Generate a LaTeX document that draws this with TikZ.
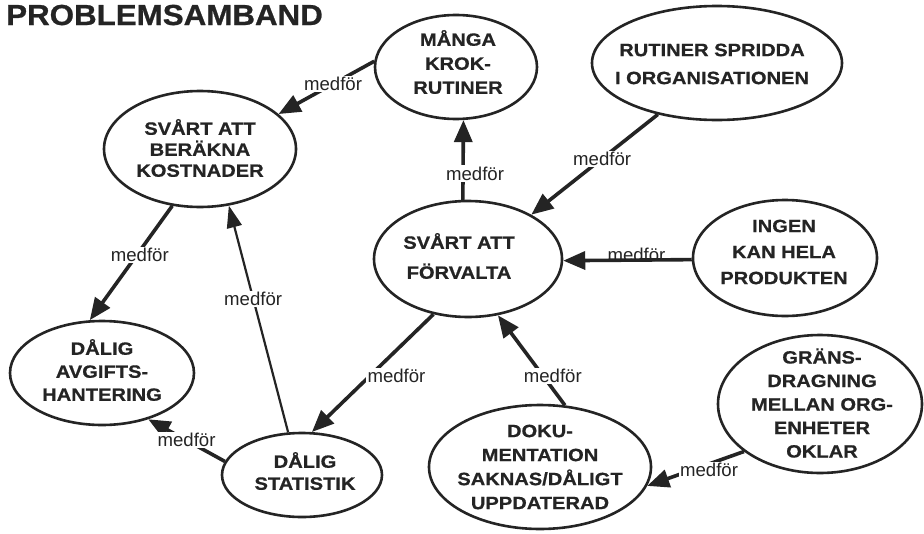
\documentclass[tikz,border=0pt]{standalone}
\usepackage{fontspec}
\setmainfont{Liberation Sans}
\newfontfamily\nodefont[FakeStretch=1.13, BoldFeatures={FakeBold=0.7}]{Liberation Sans}
\newfontfamily\titlefont[FakeStretch=1.08, BoldFeatures={FakeBold=0.8}]{Liberation Sans}
\usetikzlibrary{shapes.geometric,arrows.meta}
\definecolor{ink}{HTML}{242424}

\begin{document}
\begin{tikzpicture}[x=1pt,y=-1pt,
  bubble/.style={ellipse, draw=ink, line width=2.6pt, inner sep=0pt},
  btext/.style={align=center, text=ink, inner sep=0pt,
    font=\nodefont\bfseries\fontsize{17.8}{#1}\selectfont},
  conn/.style={draw=ink, line width=3.6pt, -{Triangle[length=22pt,width=18pt]}},
  thinconn/.style={draw=ink, line width=2.2pt, -{Triangle[length=22pt,width=15pt]}},
  lab/.style={fill=white, inner sep=1.2pt, text=ink, font=\fontsize{18.6}{21}\selectfont}
]
% canvas
\path[use as bounding box, fill=white] (0,0) rectangle (924,533);

% heading
\node[anchor=base west, inner sep=0pt, text=ink,
      font=\titlefont\bfseries\fontsize{29}{31}\selectfont] (title) at (6,25) {PROBLEMSAMBAND};

% problem bubbles
\node[bubble, minimum width=162pt, minimum height=104pt] (mg) at (456,67) {};
\node[bubble, minimum width=250pt, minimum height=114pt] (rt) at (717,63) {};
\node[bubble, minimum width=192pt, minimum height=116pt] (bk) at (200,149) {};
\node[bubble, minimum width=188pt, minimum height=116pt] (fv) at (468,259) {};
\node[bubble, minimum width=184pt, minimum height=116pt] (ig) at (785,258) {};
\node[bubble, minimum width=184pt, minimum height=104pt] (da) at (102,373) {};
\node[bubble, minimum width=160pt, minimum height=84pt]  (ds) at (302,475) {};
\node[bubble, minimum width=222pt, minimum height=124pt] (dk) at (540,467) {};
\node[bubble, minimum width=204pt, minimum height=138pt] (gr) at (820,404) {};

% causal links
\draw[conn] (mg.176) -- node[lab,pos=0.43] (l1) {medför} (bk.24);
\draw[conn] (fv.95) -- node[lab,pos=0.33,xshift=12pt] (l2) {medför} (mg.278);
\draw[conn] (rt.221) -- node[lab,pos=0.44] (l3) {medför} (fv.35);
\draw[conn] (ig.181) -- node[lab,fill=none,pos=0.43,anchor=base,yshift=-1pt] (l4) {medför} (fv.359);
\draw[conn] (bk.244) -- node[lab,pos=0.43,xshift=3pt] (l5) {medför} (da.103);
\draw[thinconn] (ds.108) -- node[lab,pos=0.59] (l6) {medför} (bk.297);
\draw[conn] (fv.238) -- node[lab,pos=0.51,xshift=25pt,yshift=-2pt] (l7) {medför} (ds.77);
\draw[conn] (ds.170) -- node[lab,pos=0.5] (l8) {medför} (da.315);
\draw[conn] (dk.68) -- node[lab,pos=0.33,xshift=10pt] (l9) {medför} (fv.298);
\draw[conn] (gr.212) -- node[lab,pos=0.36,yshift=-6pt] (l10) {medför} (dk.350);

% bubble texts
\node[btext=24]   (mg-t) at (458,62)  {MÅNGA\\KROK-\\RUTINER};
\node[btext=28]   (rt-t) at (712,64)  {RUTINER SPRIDDA\\I ORGANISATIONEN};
\node[btext=21]   (bk-t) at (200,148) {SVÅRT ATT\\BERÄKNA\\KOSTNADER};
\node[btext=30]   (fv-t) at (459,256) {SVÅRT ATT\\FÖRVALTA};
\node[btext=26]   (ig-t) at (784,252) {INGEN\\KAN HELA\\PRODUKTEN};
\node[btext=23]   (da-t) at (102,370) {DÅLIG\\AVGIFTS-\\HANTERING};
\node[btext=22]   (ds-t) at (305,471) {DÅLIG\\STATISTIK};
\node[btext=24]   (dk-t) at (540,467) {DOKU-\\MENTATION\\SAKNAS/DÅLIGT\\UPPDATERAD};
\node[btext=23.5] (gr-t) at (822,403) {GRÄNS-\\DRAGNING\\MELLAN ORG-\\ENHETER\\OKLAR};
\end{tikzpicture}
\end{document}
